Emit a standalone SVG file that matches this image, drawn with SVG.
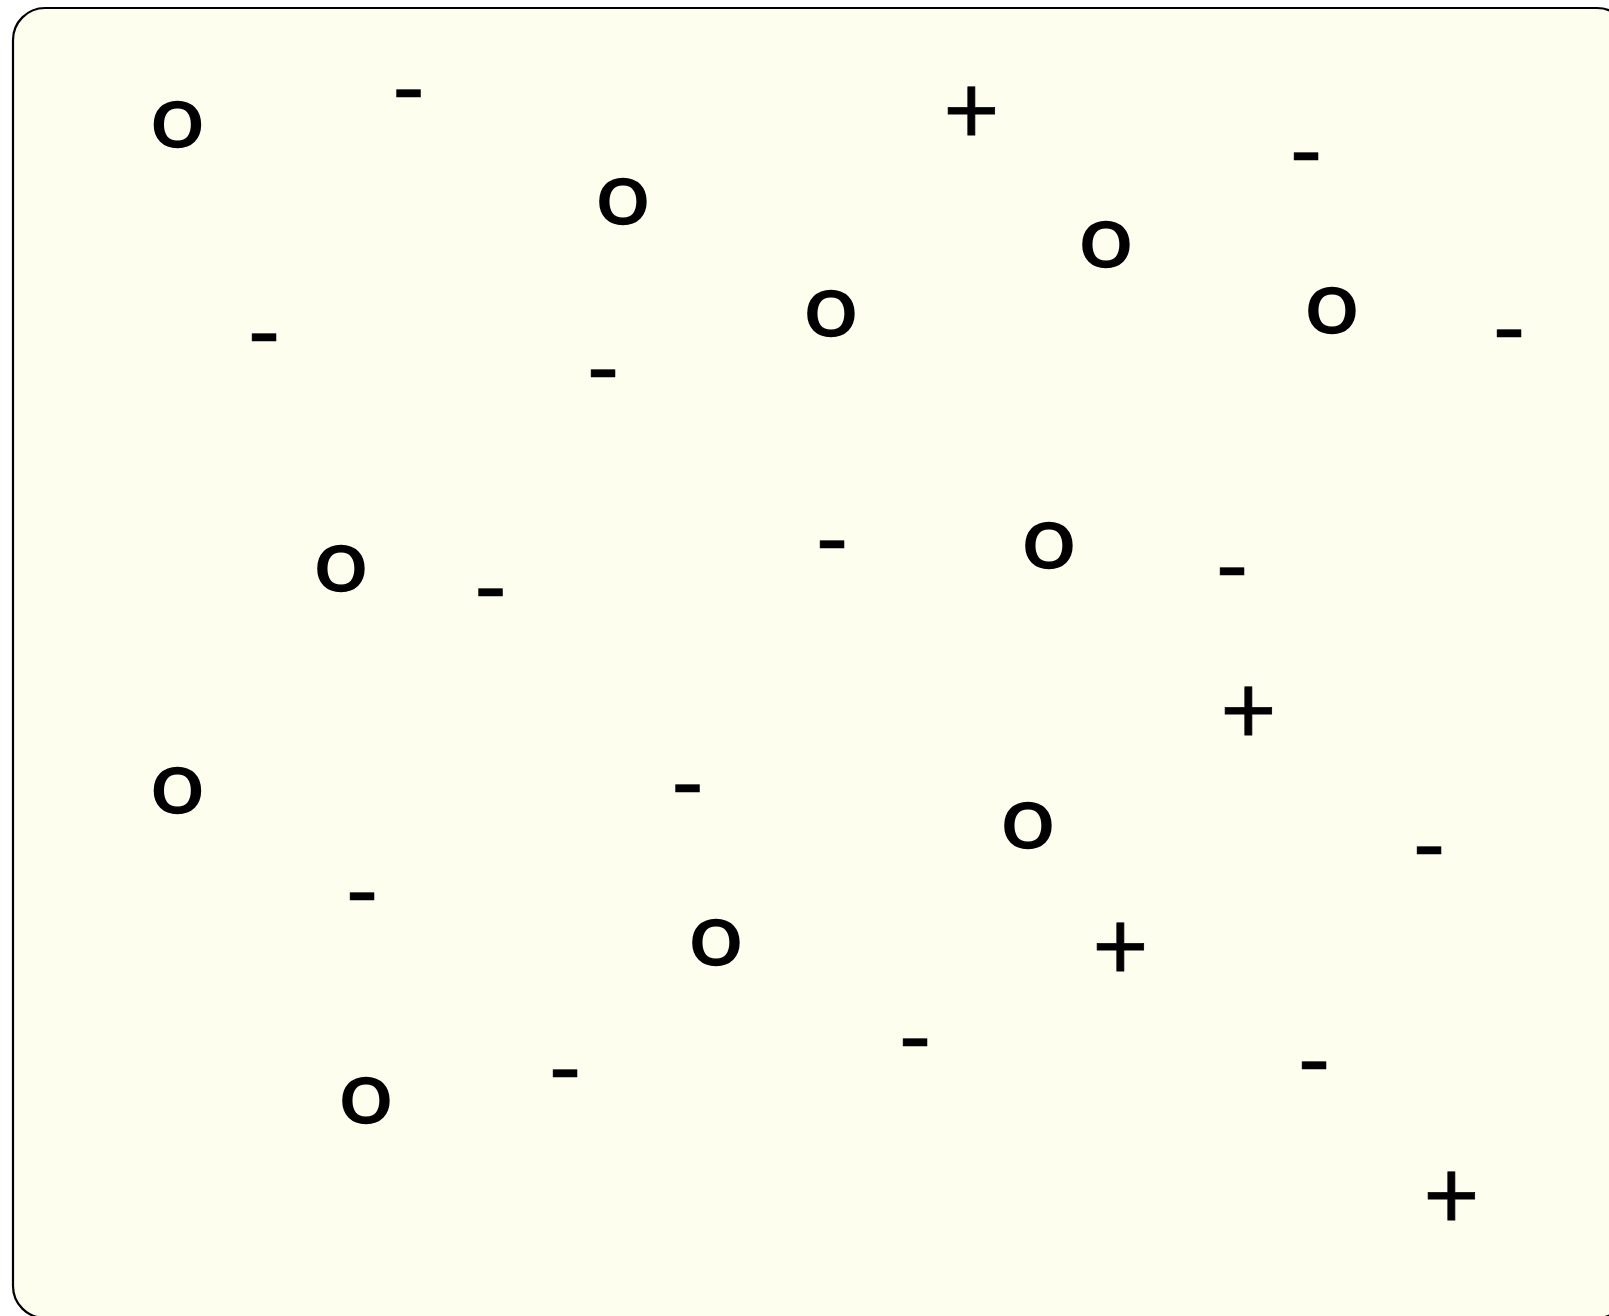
<svg xmlns="http://www.w3.org/2000/svg" width="1609" height="1316" viewBox="0 0 1609 1316">
<style>
.frame{fill:#FEFEEF;stroke:#000;stroke-width:2.2}
text{font-family:Lato,"Liberation Sans",sans-serif;font-size:97px;fill:#000;text-anchor:middle}
text.o{font-size:95px;stroke:#000;stroke-width:1.6;stroke-linejoin:round}
text.m{stroke:#000;stroke-width:0.5}
text.p{stroke:#000;stroke-width:0.8}
</style>
<rect width="1609" height="1316" fill="#fff"/>
<g id="frame"><rect class="frame" x="13" y="8" width="1616" height="1310" rx="32" ry="32"/></g>
<g id="symbols-o">
<text id="o1" class="o" transform="translate(177.5 146.7) scale(1 0.945)">o</text>
<text id="o2" class="o" transform="translate(623 223.9) scale(1 0.945)">o</text>
<text id="o3" class="o" transform="translate(1106 266.7) scale(1 0.945)">o</text>
<text id="o4" class="o" transform="translate(831 335.7) scale(1 0.945)">o</text>
<text id="o5" class="o" transform="translate(1332 332.7) scale(1 0.945)">o</text>
<text id="o6" class="o" transform="translate(341 590.7) scale(1 0.945)">o</text>
<text id="o7" class="o" transform="translate(1049 567.7) scale(1 0.945)">o</text>
<text id="o8" class="o" transform="translate(177.5 812.7) scale(1 0.945)">o</text>
<text id="o9" class="o" transform="translate(1028 847.7) scale(1 0.945)">o</text>
<text id="o10" class="o" transform="translate(716 964.7) scale(1 0.945)">o</text>
<text id="o11" class="o" transform="translate(366 1122.7) scale(1 0.945)">o</text>
</g>
<g id="symbols-minus">
<text id="m1" class="m" x="408.5" y="122.2">-</text>
<text id="m2" class="m" x="1306" y="185.2">-</text>
<text id="m3" class="m" x="264" y="366.2">-</text>
<text id="m4" class="m" x="603" y="401.7">-</text>
<text id="m5" class="m" x="1509" y="361.7">-</text>
<text id="m6" class="m" x="832" y="573.2">-</text>
<text id="m7" class="m" x="490.5" y="621.2">-</text>
<text id="m8" class="m" x="1232" y="599.7">-</text>
<text id="m9" class="m" x="687.5" y="817.2">-</text>
<text id="m10" class="m" x="1429" y="878.8">-</text>
<text id="m11" class="m" x="362" y="925.2">-</text>
<text id="m12" class="m" x="915" y="1070.7">-</text>
<text id="m13" class="m" x="565" y="1102.2">-</text>
<text id="m14" class="m" x="1314" y="1094.2">-</text>
</g>
<g id="symbols-plus">
<text id="p1" class="p" x="971.5" y="143">+</text>
<text id="p2" class="p" x="1248.5" y="742.9">+</text>
<text id="p3" class="p" x="1120.5" y="979">+</text>
<text id="p4" class="p" x="1451.5" y="1228">+</text>
</g>
<g id="connectors"></g>
</svg>
